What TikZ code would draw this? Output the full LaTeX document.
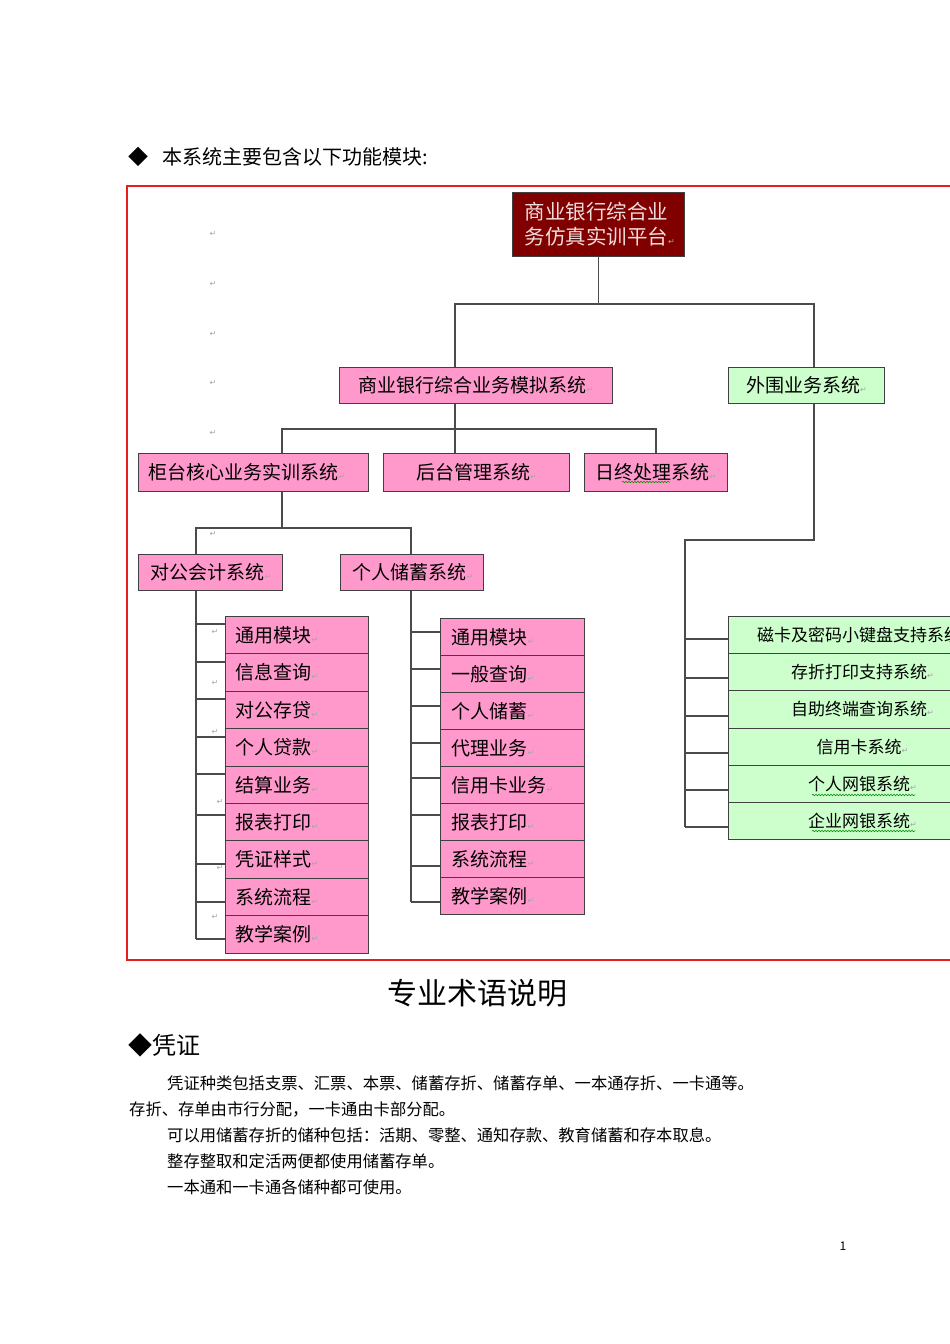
\documentclass[tikz,border=0pt]{standalone}
\usepackage{fontspec}
\setmainfont{Noto Sans CJK SC}
\newfontfamily\djv{DejaVu Sans}
\usetikzlibrary{decorations.pathmorphing}
\definecolor{pinkc}{RGB}{255,153,204}
\definecolor{greenc}{RGB}{204,255,204}
\definecolor{darkredc}{RGB}{128,0,0}
\definecolor{toptext}{RGB}{240,222,222}
\definecolor{linec}{RGB}{75,75,75}
\definecolor{framec}{RGB}{230,30,30}
\newcommand{\rmk}{{\djv\fontsize{8}{8}\selectfont\color{gray!70}↵}}
\tikzset{
  bx/.style={draw=black!75, line width=1pt, anchor=north west, inner ysep=0pt, font=\fontsize{19}{22}\selectfont},
  pk/.style={bx, fill=pinkc},
  gn/.style={bx, fill=greenc},
  conn/.style={draw=linec, line width=1.3pt},
  txt/.style={inner sep=0pt, anchor=west},
  pmark/.style={inner sep=0pt, font=\djv\fontsize{8}{8}\selectfont, text=gray!70},
  wavy/.style={draw=green!55!black, line width=0.6pt, decorate, decoration={snake, amplitude=0.7pt, segment length=3pt}},
  listL/.style={minimum width=143pt, minimum height=37.4pt, text width=123pt, inner xsep=10pt, align=left},
  listM/.style={minimum width=144pt, minimum height=37pt, text width=122pt, inner xsep=11pt, align=left},
  listR/.style={minimum width=268pt, minimum height=37.2pt, align=center, font=\fontsize{17}{20}\selectfont}
}
\begin{document}
\begin{tikzpicture}[x=1pt,y=-1pt]
\useasboundingbox (0,0) rectangle (950,1344);
\fill[white] (0,0) rectangle (950,1344);

% header
\node[txt, font=\fontsize{20}{20}\selectfont] (hdr) at (128,157) {◆\hspace{14pt}本系统主要包含以下功能模块:};

% frame
\draw[framec, line width=2pt] (127,186) rectangle (1010,960);

% paragraph marks
\foreach \mx/\my [count=\k] in {213/234,213/284,213/334,213/383,213/433,213/534,215/632,215/683,215/732,220/802,220/868,215/917}
  \node[pmark] (m\k) at (\mx,\my) {↵};

% main boxes
\node[bx, fill=darkredc, minimum width=172pt, minimum height=64pt, text width=148pt, inner xsep=12pt, align=left, text=toptext, font=\fontsize{20.5}{25}\selectfont] (top) at (512,192) {商业银行综合业\\务仿真实训平台\rmk};
\node[pk, minimum width=273pt, minimum height=36pt, align=center] (sim) at (339,367) {商业银行综合业务模拟系统\rmk};
\node[gn, minimum width=156pt, minimum height=36pt, align=center] (outer) at (728,367) {外围业务系统\rmk};
\node[pk, minimum width=230pt, minimum height=38pt, text width=210pt, inner xsep=10pt, align=left] (gt) at (138,453) {柜台核心业务实训系统\rmk};
\node[pk, minimum width=186pt, minimum height=38pt, align=center] (ht) at (383,453) {后台管理系统\rmk};
\node[pk, minimum width=143pt, minimum height=38pt, align=center] (rz) at (584,453) {日终处理系统\rmk};
\node[pk, minimum width=144pt, minimum height=36pt, text width=120pt, inner xsep=12pt, align=left] (dg) at (138,554) {对公会计系统\rmk};
\node[pk, minimum width=143pt, minimum height=36pt, text width=119pt, inner xsep=12pt, align=left] (gr) at (340,554) {个人储蓄系统\rmk};

% wavy underlines
\draw[wavy] (622,482) -- (670,482);

% lists
\foreach \t [count=\i from 0] in {通用模块,信息查询,对公存贷,个人贷款,结算业务,报表打印,凭证样式,系统流程,教学案例}
  \node[pk, listL] (L\i) at (225,{616+37.4*\i}) {\t\rmk};
\foreach \t [count=\i from 0] in {通用模块,一般查询,个人储蓄,代理业务,信用卡业务,报表打印,系统流程,教学案例}
  \node[pk, listM] (M\i) at (440,{618+37*\i}) {\t\rmk};
\foreach \t [count=\i from 0] in {磁卡及密码小键盘支持系统,存折打印支持系统,自助终端查询系统,信用卡系统,个人网银系统,企业网银系统}
  \node[gn, listR] (R\i) at (728,{616+37.2*\i}) {\t\rmk};

\draw[wavy] (812,795) -- (915,795);
\draw[wavy] (812,831) -- (915,831);

% connectors level 1
\coordinate (a1) at (455,304);
\coordinate (a2) at (814,304);
\draw[conn] (top.south) -- (top.south |- a1);
\draw[conn] (sim.north -| a1) -- (a1) -- (a2) -- (outer.north -| a2);
% level 2
\coordinate (b1) at (282,429);
\coordinate (b3) at (656,429);
\draw[conn] (sim.south -| a1) -- (ht.north -| a1);
\draw[conn] (gt.north -| b1) -- (b1) -- (b3) -- (rz.north -| b3);
% level 3
\coordinate (c1) at (196,528);
\coordinate (c2) at (411,528);
\draw[conn] (gt.south -| b1) -- (b1 |- c1);
\draw[conn] (dg.north -| c1) -- (c1) -- (c2) -- (gr.north -| c2);

% left list trunk
\coordinate (lend) at (196,939);
\draw[conn] (dg.south -| c1) -- (lend);
\foreach \yy [count=\i from 0] in {624,662,699,737,774,815,864,902,939}{
  \coordinate (tl\i) at (196,\yy);
  \draw[conn] (tl\i) -- (tl\i -| L\i.west);
}
% middle list trunk
\coordinate (mend) at (411,902);
\draw[conn] (gr.south -| c2) -- (mend);
\foreach \yy [count=\i from 0] in {632,669,706,743,778,815,866,902}{
  \coordinate (tm\i) at (411,\yy);
  \draw[conn] (tm\i) -- (tm\i -| M\i.west);
}
% right list trunk
\coordinate (r1) at (814,540);
\coordinate (r2) at (685,540);
\coordinate (rend) at (685,827);
\draw[conn] (outer.south -| a2) -- (r1) -- (r2) -- (rend);
\foreach \yy [count=\i from 0] in {639,678,716,753,790,827}{
  \coordinate (tr\i) at (685,\yy);
  \draw[conn] (tr\i) -- (tr\i -| R\i.west);
}

% bottom text
\node[inner sep=0pt, font=\fontsize{30}{30}\selectfont] (title) at (477,993) {专业术语说明};
\node[txt, font=\fontsize{24}{24}\selectfont] (sec) at (128,1045) {◆凭证};
\node[txt, font=\fontsize{16.3}{16.3}\selectfont] (p1) at (167,1083) {凭证种类包括支票、汇票、本票、储蓄存折、储蓄存单、一本通存折、一卡通等。};
\node[txt, font=\fontsize{16.3}{16.3}\selectfont] (p2) at (129,1109) {存折、存单由市行分配，一卡通由卡部分配。};
\node[txt, font=\fontsize{16.3}{16.3}\selectfont] (p3) at (167,1135) {可以用储蓄存折的储种包括：活期、零整、通知存款、教育储蓄和存本取息。};
\node[txt, font=\fontsize{16.3}{16.3}\selectfont] (p4) at (167,1161) {整存整取和定活两便都使用储蓄存单。};
\node[txt, font=\fontsize{16.3}{16.3}\selectfont] (p5) at (167,1187) {一本通和一卡通各储种都可使用。};
\node[inner sep=0pt, font=\fontsize{12}{12}\selectfont] (pg) at (843,1246) {1};
\end{tikzpicture}
\end{document}
